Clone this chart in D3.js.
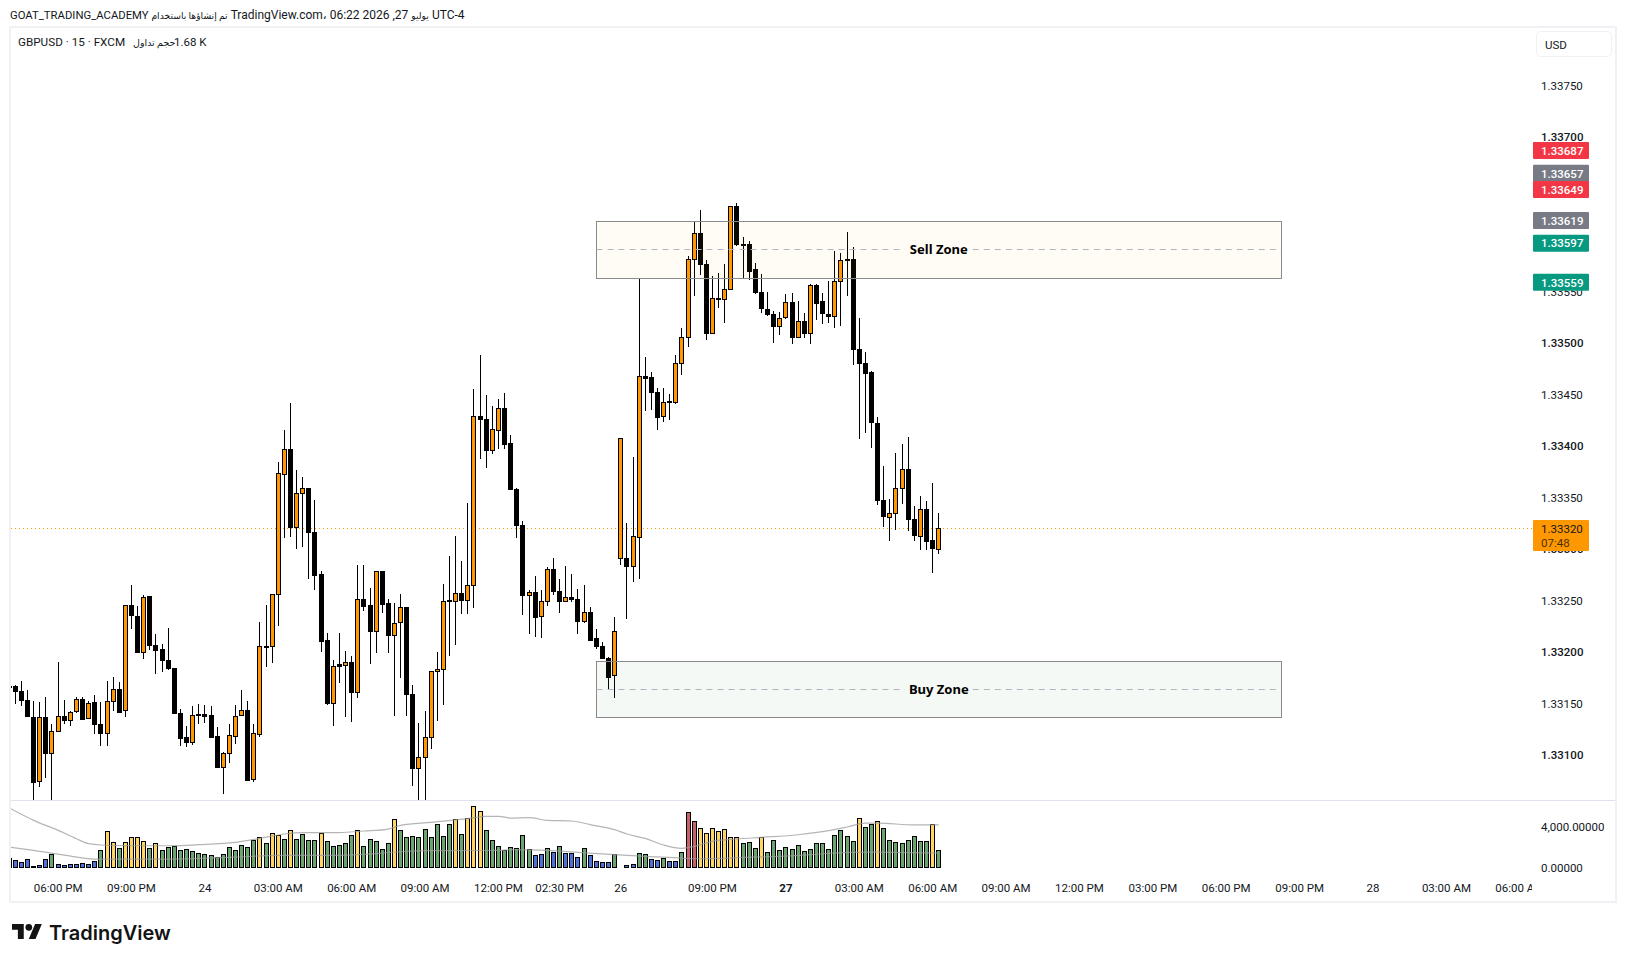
<!DOCTYPE html>
<html>
<head>
<meta charset="utf-8">
<script src="https://cdn.jsdelivr.net/npm/d3@7"></script>
<style>
  html, body { margin: 0; padding: 0; background: #fff; }
  svg { display: block; }
  text { font-family: Roboto, "DejaVu Sans", sans-serif; fill: #131722; }
</style>
</head>
<body>
<div id="chart"></div>
<script>
// candles, bar 0 is the one cut by the left edge
const opens = [
1.33167,1.33167,1.33162,1.33153,1.33137,1.33075,1.33137,1.33102,1.33123,1.33138,
1.33134,1.33142,1.33154,1.33135,1.33151,1.33130,1.33121,1.33152,1.33164,1.33143,
1.33245,1.33235,1.33200,1.33254,1.33207,1.33203,1.33192,1.33184,1.33141,1.33117,
1.33113,1.33140,1.33140,1.33139,1.33118,1.33088,1.33102,1.33119,1.33138,1.33143,
1.33076,1.33121,1.33206,1.33206,1.33256,1.33373,1.33397,1.33321,1.33354,1.33359,
1.33316,1.33275,1.33211,1.33150,1.33188,1.33187,1.33190,1.33161,1.33251,1.33245,
1.33220,1.33278,1.33247,1.33216,1.33228,1.33243,1.33159,1.33087,1.33098,1.33117,
1.33181,1.33183,1.33250,1.33249,1.33257,1.33250,1.33265,1.33429,1.33426,1.33396,
1.33416,1.33437,1.33403,1.33358,1.33323,1.33255,1.33258,1.33234,1.33249,1.33280,
1.33259,1.33249,1.33253,1.33251,1.33230,1.33239,1.33213,1.33206,1.33194,1.33177,
1.33291,1.33291,1.33283,1.33312,1.33468,1.33467,1.33452,1.33428,1.33443,1.33442,
1.33480,1.33505,1.33581,1.33606,1.33576,1.33509,1.33543,1.33542,1.33552,1.33633,
1.33596,1.33596,1.33571,1.33549,1.33533,1.33528,1.33516,1.33524,1.33539,1.33505,
1.33521,1.33509,1.33556,1.33540,1.33528,1.33526,1.33560,1.33581,1.33581,1.33494,
1.33480,1.33471,1.33422,1.33347,1.33331,1.33335,1.33359,1.33377,1.33329,1.33313,
1.33339,1.33308,1.33300];
const highs = [
1.33167,1.33168,1.33172,1.33163,1.33153,1.33152,1.33157,1.33130,1.33191,1.33154,
1.33143,1.33157,1.33157,1.33153,1.33159,1.33152,1.33172,1.33176,1.33171,1.33245,
1.33265,1.33245,1.33256,1.33254,1.33218,1.33208,1.33224,1.33185,1.33145,1.33128,
1.33148,1.33150,1.33149,1.33148,1.33127,1.33103,1.33130,1.33149,1.33163,1.33153,
1.33130,1.33229,1.33246,1.33257,1.33385,1.33416,1.33442,1.33377,1.33370,1.33359,
1.33348,1.33279,1.33219,1.33192,1.33219,1.33201,1.33196,1.33285,1.33285,1.33262,
1.33279,1.33279,1.33252,1.33248,1.33257,1.33244,1.33168,1.33131,1.33143,1.33182,
1.33200,1.33266,1.33293,1.33313,1.33289,1.33345,1.33455,1.33488,1.33450,1.33439,
1.33446,1.33452,1.33411,1.33359,1.33327,1.33260,1.33274,1.33260,1.33283,1.33291,
1.33271,1.33284,1.33276,1.33261,1.33265,1.33244,1.33223,1.33210,1.33195,1.33234,
1.33407,1.33325,1.33389,1.33562,1.33487,1.33472,1.33456,1.33456,1.33451,1.33488,
1.33515,1.33585,1.33618,1.33629,1.33581,1.33565,1.33568,1.33577,1.33633,1.33636,
1.33603,1.33599,1.33578,1.33567,1.33550,1.33531,1.33530,1.33548,1.33549,1.33541,
1.33529,1.33557,1.33557,1.33549,1.33560,1.33589,1.33587,1.33608,1.33593,1.33524,
1.33491,1.33473,1.33428,1.33381,1.33349,1.33393,1.33402,1.33409,1.33342,1.33352,
1.33347,1.33364,1.33335];
const lows = [
1.33167,1.33150,1.33148,1.33137,1.33050,1.33069,1.33078,1.33050,1.33123,1.33130,
1.33128,1.33141,1.33135,1.33135,1.33121,1.33109,1.33109,1.33143,1.33141,1.33137,
1.33223,1.33200,1.33193,1.33202,1.33179,1.33181,1.33183,1.33140,1.33109,1.33108,
1.33110,1.33130,1.33131,1.33118,1.33088,1.33062,1.33093,1.33111,1.33138,1.33075,
1.33074,1.33118,1.33186,1.33190,1.33225,1.33311,1.33312,1.33300,1.33302,1.33271,
1.33260,1.33200,1.33149,1.33128,1.33170,1.33137,1.33132,1.33156,1.33240,1.33189,
1.33199,1.33238,1.33199,1.33138,1.33175,1.33138,1.33070,1.33050,1.33050,1.33106,
1.33133,1.33149,1.33196,1.33207,1.33237,1.33237,1.33243,1.33388,1.33379,1.33392,
1.33397,1.33397,1.33357,1.33311,1.33236,1.33218,1.33215,1.33214,1.33245,1.33256,
1.33238,1.33249,1.33249,1.33218,1.33228,1.33212,1.33203,1.33193,1.33164,1.33156,
1.33285,1.33232,1.33268,1.33271,1.33434,1.33435,1.33416,1.33423,1.33425,1.33441,
1.33469,1.33496,1.33546,1.33566,1.33503,1.33509,1.33534,1.33520,1.33552,1.33594,
1.33563,1.33561,1.33548,1.33529,1.33526,1.33500,1.33508,1.33523,1.33499,1.33505,
1.33505,1.33499,1.33522,1.33519,1.33520,1.33515,1.33517,1.33546,1.33479,1.33407,
1.33413,1.33398,1.33343,1.33322,1.33308,1.33319,1.33344,1.33318,1.33308,1.33299,
1.33299,1.33277,1.33295];
const closes = [
1.33167,1.33162,1.33153,1.33137,1.33074,1.33137,1.33102,1.33123,1.33138,1.33134,
1.33142,1.33154,1.33135,1.33150,1.33130,1.33121,1.33152,1.33164,1.33142,1.33245,
1.33235,1.33200,1.33253,1.33206,1.33202,1.33192,1.33184,1.33140,1.33117,1.33112,
1.33139,1.33139,1.33138,1.33118,1.33088,1.33102,1.33119,1.33138,1.33143,1.33075,
1.33121,1.33206,1.33205,1.33256,1.33373,1.33397,1.33321,1.33354,1.33359,1.33316,
1.33274,1.33210,1.33150,1.33186,1.33186,1.33190,1.33161,1.33251,1.33244,1.33220,
1.33278,1.33246,1.33216,1.33228,1.33243,1.33159,1.33087,1.33098,1.33117,1.33181,
1.33183,1.33249,1.33249,1.33257,1.33250,1.33265,1.33429,1.33426,1.33396,1.33416,
1.33437,1.33402,1.33358,1.33323,1.33255,1.33258,1.33234,1.33249,1.33280,1.33259,
1.33249,1.33253,1.33251,1.33230,1.33239,1.33212,1.33205,1.33194,1.33176,1.33220,
1.33407,1.33283,1.33312,1.33468,1.33466,1.33452,1.33428,1.33442,1.33442,1.33480,
1.33505,1.33581,1.33606,1.33576,1.33509,1.33543,1.33542,1.33552,1.33633,1.33596,
1.33596,1.33570,1.33549,1.33533,1.33528,1.33516,1.33524,1.33539,1.33505,1.33521,
1.33509,1.33556,1.33539,1.33528,1.33526,1.33560,1.33580,1.33580,1.33494,1.33480,
1.33470,1.33422,1.33347,1.33331,1.33335,1.33359,1.33377,1.33328,1.33313,1.33339,
1.33308,1.33300,1.33320];

// volume pane
const volumes = [
920,690,525,820,130,230,820,1310,330,230,
330,330,430,330,620,1710,3480,2490,1900,2490,
2980,2890,2590,1900,2300,1710,2000,2100,1710,1800,
1610,1410,1310,1210,1020,1310,2000,1710,2200,2000,
2690,2890,2390,3380,3180,2790,3580,2790,3280,2690,
2690,3380,2590,2100,2200,2390,3180,3670,2100,2790,
2590,1800,2300,4660,3580,2980,3080,2980,3770,2890,
4170,3080,4170,4660,3280,4760,5940,5540,3670,2690,
2100,1710,2000,1900,3180,1800,1210,1310,1900,1510,
2100,1410,1410,1020,1900,1210,620,520,520,1310,
30,200,330,1410,1310,820,720,920,620,620,
1510,5350,4560,3870,3380,3870,3480,3770,2980,2980,
2300,2490,1900,2980,1510,2690,1710,2000,1800,2200,
1610,1800,2390,2300,1800,3180,3580,3080,2590,4760,
3970,4170,4560,3870,2690,2490,2390,2690,3080,2590,
2590,4260,1710];
const volumeKinds =
"bbbbbbbgbbbbbbbgyygyyyygy"+"gggggggggggggggg"+"yg"+"yygyggggygggggygggggyggggggggg"+
"ygyyygggggggg"+"bbgbgbbbgbbbbgbbbggbbgbbg"+"rryyyyyyygggy"+"gggggggggggggggyggyggggggggyg";

const upperLineBars = [0,4,8,11,13,15,20,26,31,37,41,45,48,53,58,62,64,69,75,78,80,82,85,88,92,95,99,101,104,107,110,112,115,119,123,129,134,137,140,142,148,152];
const upperLineVals = [5840,4625,3640,2820,2330,2200,2130,2130,2230,2460,2850,3280,3410,3410,3575,3770,4130,4430,4790,5020,5020,4850,4890,4625,4560,4200,3710,3280,2850,2200,1870,2070,2560,2790,2950,3210,3610,3970,4360,4360,4170,4170];
const lowerLineBars = [0,4,9,14,20,26,31,37,42,48,53,58,64,69,80,82,88,93,99,104,110,112,118,120,126,131,137,142,152];
const lowerLineVals = [2000,1670,1210,820,820,820,885,1015,1150,1180,1180,1280,1540,1640,1670,1740,1670,1480,1250,1080,920,850,920,985,1080,1250,1480,1510,1410];

// axes
const priceTicks = [1.331,1.3315,1.332,1.3325,1.333,1.3335,1.334,1.3345,1.335,1.3355,1.336,1.3365,1.337,1.3375];
const volumeTicks = [0,4000];
const timeBars = [8,20,32,44,56,68,80,90,100,115,127,139,151,163,175,187,199,211,223,235,247];
const timeLabels = ["06:00 PM","09:00 PM","24","03:00 AM","06:00 AM","09:00 AM","12:00 PM","02:30 PM","26","09:00 PM","27","03:00 AM","06:00 AM","09:00 AM","12:00 PM","03:00 PM","06:00 PM","09:00 PM","28","03:00 AM","06:00 AM"];

// zones and price tags
const zoneNames = ["Sell Zone","Buy Zone"];
const zoneTops = [1.33618,1.33191];
const zoneBottoms = [1.33563,1.33137];
const zoneStartBar = 96, zoneEndBar = 208;
const tagPrices = [1.33687,1.33657,1.33649,1.33619,1.33597,1.33559];
const tagKinds = ["red","gray","red","gray","green","green"];
const lastPrice = 1.33320;
const countdown = "07:48";

const tagColors = { red: "#f23645", gray: "#787b86", green: "#089981" };
const volColors = { b: "#4d73d6", g: "#6aa56f", y: "#ffd564", r: "#c9606a" };
const UP = "#ff9800", DOWN = "#000000";

const svg = d3.select("#chart").append("svg").attr("width", 1626).attr("height", 962);

const x = d3.scaleLinear().domain([1, 247]).range([15.3, 1519.8]);
const y = d3.scaleLinear().domain([1.331, 1.3375]).range([755.3, 85.5]);
const yVol = d3.scaleLinear().domain([0, 4000]).range([867.4, 826.7]);

// snap to the middle of a pixel so the 1px lines stay sharp
const snap = v => Math.floor(v) + 0.5;

const defs = svg.append("defs");
defs.append("clipPath").attr("id", "priceClip").append("rect")
  .attr("x", 11).attr("y", 28).attr("width", 1521).attr("height", 772);
defs.append("clipPath").attr("id", "volClip").append("rect")
  .attr("x", 11).attr("y", 801).attr("width", 1521).attr("height", 72);
defs.append("clipPath").attr("id", "timeClip").append("rect")
  .attr("x", 11).attr("y", 873).attr("width", 1521).attr("height", 28);

// frame
svg.append("rect").attr("x", 10).attr("y", 27).attr("width", 1606).attr("height", 875)
  .attr("fill", "none").attr("stroke", "#f0f1f4").attr("stroke-width", 2);
svg.append("line").attr("x1", 11).attr("x2", 1615).attr("y1", 800.5).attr("y2", 800.5)
  .attr("stroke", "#e0e3eb");

// last price line goes under the candles
const priceG = svg.append("g").attr("clip-path", "url(#priceClip)");
priceG.append("line").attr("x1", 11).attr("x2", 1532)
  .attr("y1", snap(y(lastPrice))).attr("y2", snap(y(lastPrice)))
  .attr("stroke", UP).attr("stroke-dasharray", "1 3");

const bars = d3.range(opens.length);

priceG.selectAll("line.wick").data(bars).enter().append("line")
  .attr("class", "wick")
  .attr("x1", i => snap(x(i))).attr("x2", i => snap(x(i)))
  .attr("y1", i => y(highs[i])).attr("y2", i => y(lows[i]))
  .attr("stroke", "#000").attr("shape-rendering", "crispEdges");

priceG.selectAll("rect.body").data(bars).enter().append("rect")
  .attr("class", "body")
  .attr("x", i => snap(x(i)) - 2)
  .attr("width", 4)
  .attr("y", i => snap(y(Math.max(opens[i], closes[i]))))
  .attr("height", i => Math.max(1, Math.round(Math.abs(y(opens[i]) - y(closes[i])))))
  .attr("fill", i => closes[i] > opens[i] ? UP : DOWN)
  .attr("stroke", "#000").attr("shape-rendering", "crispEdges");

// zones sit over the candles, fill is almost see through
const zoneFills = ["rgba(255,170,30,0.045)", "rgba(40,130,70,0.05)"];
zoneNames.forEach((name, k) => {
  const left = snap(x(zoneStartBar)), right = snap(x(zoneEndBar));
  const top = snap(y(zoneTops[k])), bottom = snap(y(zoneBottoms[k]));
  const mid = snap((y(zoneTops[k]) + y(zoneBottoms[k])) / 2);
  const cx = x((zoneStartBar + zoneEndBar) / 2);
  priceG.append("rect").attr("x", left).attr("y", top)
    .attr("width", right - left).attr("height", bottom - top)
    .attr("fill", zoneFills[k]).attr("stroke", "#8a8a8a");
  [[left, cx - 34], [cx + 34, right]].forEach(seg => {
    priceG.append("line").attr("x1", seg[0]).attr("x2", seg[1]).attr("y1", mid).attr("y2", mid)
      .attr("stroke", "#b2b5be").attr("stroke-dasharray", "6 5");
  });
  priceG.append("text").attr("x", cx).attr("y", mid + 4.5)
    .attr("text-anchor", "middle")
    .style("font-family", "'Noto Sans', sans-serif")
    .style("font-size", "13px").style("font-weight", 700).style("fill", "#000")
    .text(name);
});

// volume pane
const volG = svg.append("g").attr("clip-path", "url(#volClip)");
volG.selectAll("rect").data(bars).enter().append("rect")
  .attr("x", i => snap(x(i)) - 2)
  .attr("width", 4)
  .attr("y", i => snap(yVol(volumes[i])))
  .attr("height", i => snap(yVol(0)) - snap(yVol(volumes[i])))
  .attr("fill", i => volColors[volumeKinds[i]])
  .attr("stroke", "#000").attr("shape-rendering", "crispEdges");

const volLine = d3.line().x(d => x(d[0])).y(d => yVol(d[1])).curve(d3.curveMonotoneX);
[[upperLineBars, upperLineVals], [lowerLineBars, lowerLineVals]].forEach(s => {
  volG.append("path").attr("d", volLine(s[0].map((b, i) => [b, s[1][i]])))
    .attr("fill", "none").attr("stroke", "#9c9c9c").attr("stroke-opacity", 0.75).attr("stroke-width", 1.2);
});

// price axis
const priceAxis = d3.axisRight(y).tickValues(priceTicks).tickSize(0).tickPadding(0).tickFormat(d3.format(".5f"));
const priceAxisG = svg.append("g").attr("transform", "translate(1541,0)").call(priceAxis);
priceAxisG.select(".domain").remove();
priceAxisG.selectAll("text")
  .style("font-size", "11.5px")
  .style("font-weight", d => Math.round(d * 1e5) % 100 === 0 ? 500 : 400);

const volAxis = d3.axisRight(yVol).tickValues(volumeTicks).tickSize(0).tickPadding(0).tickFormat(d3.format(",.5f"));
const volAxisG = svg.append("g").attr("transform", "translate(1541,0)").call(volAxis);
volAxisG.select(".domain").remove();
volAxisG.selectAll("text").style("font-size", "11.5px");

// time axis
const timeAxis = d3.axisBottom(x).tickValues(timeBars).tickSize(0).tickPadding(0)
  .tickFormat((d, i) => timeLabels[i]);
const timeAxisG = svg.append("g").attr("clip-path", "url(#timeClip)")
  .append("g").attr("transform", "translate(-0.5,884)").call(timeAxis);
timeAxisG.select(".domain").remove();
timeAxisG.selectAll("text")
  .style("font-size", "11.5px")
  .style("font-weight", (d, i) => timeLabels[i] === "27" ? 700 : 400);

// price tags, the axis pushes a tag up when it would sit on the next one
const tagNudge = [0,-8,0,0,0,0];
function drawTag(price, color, nudge) {
  const cy = y(price) + nudge;
  svg.append("rect").attr("x", 1533).attr("y", cy - 8.5).attr("width", 56).attr("height", 17)
    .attr("rx", 1).attr("fill", color);
  svg.append("text").attr("x", 1541).attr("y", cy + 4.2)
    .style("font-size", "11.5px").style("font-weight", 500).style("fill", "#fff")
    .text(d3.format(".5f")(price));
}
tagPrices.forEach((p, i) => drawTag(p, tagColors[tagKinds[i]], tagNudge[i]));

const lastY = y(lastPrice);
svg.append("rect").attr("x", 1533).attr("y", lastY - 8.5).attr("width", 56).attr("height", 31)
  .attr("rx", 1).attr("fill", UP);
svg.append("text").attr("x", 1541).attr("y", lastY + 4.2).style("font-size", "11.5px").text(d3.format(".5f")(lastPrice));
svg.append("text").attr("x", 1541).attr("y", lastY + 18).style("font-size", "11.5px").style("fill", "#4a3200").text(countdown);

// currency button
svg.append("rect").attr("x", 1536.5).attr("y", 31.5).attr("width", 75).attr("height", 25).attr("rx", 4)
  .attr("fill", "#fff").attr("stroke", "#f0f1f4");
svg.append("text").attr("x", 1545).attr("y", 48.5).style("font-size", "11.5px").text("USD");

// header and legend, arabic runs are smaller in the original
const header = svg.append("text").attr("x", 10).attr("y", 19).style("font-size", "11.3px");
header.append("tspan").text("GOAT_TRADING_ACADEMY ");
header.append("tspan").style("font-size", "9.2px").text("تم إنشاؤها باستخدام");
header.append("tspan").style("font-size", "12px").text(" TradingView.com، 06:22 2026 ,27 ");
header.append("tspan").style("font-size", "9.2px").text("يوليو");
header.append("tspan").style("font-size", "12px").text(" UTC-4");
svg.append("text").attr("x", 18).attr("y", 46).style("font-size", "11.7px")
  .text("GBPUSD · 15 · FXCM");
svg.append("text").attr("x", 133).attr("y", 46).style("font-size", "9.5px").text("حجم تداول");
svg.append("text").attr("x", 174).attr("y", 46).style("font-size", "11.5px").text("1.68 K");

// logo
const logo = svg.append("g").attr("transform", "translate(12,920.6) scale(0.84)").attr("fill", "#131313");
logo.append("path").attr("d", "M14 22H7V11H0V4h14v18zM28 22h-8l7.5-18h8L28 22z");
logo.append("circle").attr("cx", 20).attr("cy", 8).attr("r", 4);
svg.append("text").attr("x", 49).attr("y", 939.5)
  .style("font-family", "Inter, sans-serif").style("font-size", "20px").style("font-weight", 600).style("fill", "#131313")
  .text("TradingView");
</script>
</body>
</html>
